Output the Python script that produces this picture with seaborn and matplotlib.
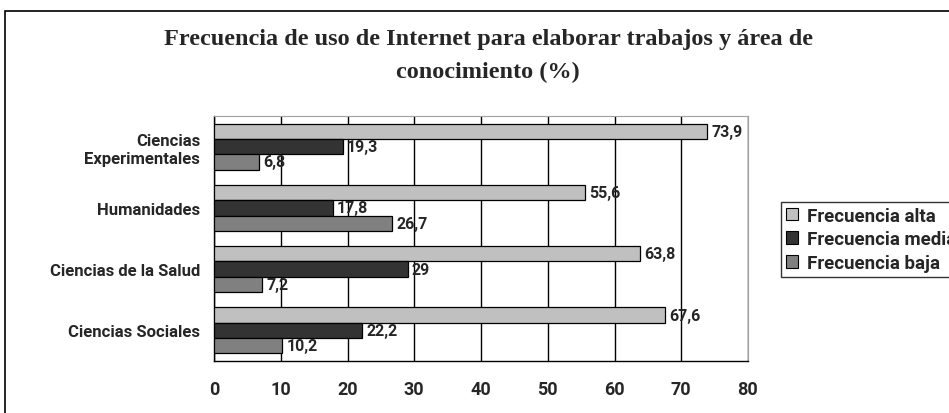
import seaborn as sns
import matplotlib.pyplot as plt
import pandas as pd
from matplotlib.patches import Rectangle

# data
areas = ["Ciencias\nExperimentales", "Humanidades", "Ciencias de la Salud", "Ciencias Sociales"]
series = ["Frecuencia alta", "Frecuencia media", "Frecuencia baja"]
alta = [73.9, 55.6, 63.8, 67.6]
media = [19.3, 17.8, 29, 22.2]
baja = [6.8, 26.7, 7.2, 10.2]
colors = ["#C0C0C0", "#333333", "#808080"]
xticks = [0, 10, 20, 30, 40, 50, 60, 70, 80]

rows = []
for s, vals in zip(series, [alta, media, baja]):
    for a, v in zip(areas, vals):
        rows.append({"area": a, "serie": s, "valor": v})
df = pd.DataFrame(rows)

sns.set_style("white")
label_font = "Roboto"

fig = plt.figure(figsize=(9.49, 4.14), dpi=100)
ax = fig.add_axes([214 / 949, 1 - 362 / 414, (748 - 214) / 949, (362 - 117) / 414])

sns.barplot(data=df, x="valor", y="area", hue="serie", order=areas, hue_order=series,
            palette=colors, orient="h", width=0.75, edgecolor="black", linewidth=0.9,
            ax=ax, zorder=3)

for cont in ax.containers:
    labs = [f"{v:g}".replace(".", ",") for v in cont.datavalues]
    ax.bar_label(cont, labels=labs, padding=3, fontsize=11.5, fontweight="bold",
                 family=label_font)

ax.set_xlim(0, 80)
ax.set_xticks(xticks)
ax.set_ylim(len(areas) - 0.5, -0.5)
ax.grid(axis="x", color="black", linewidth=1, zorder=0)
ax.set_xlabel("")
ax.set_ylabel("")

# y ticks between categories, labels centred on the groups
ax.set_yticks([i for i in range(len(areas))])
ax.set_yticklabels(areas, fontsize=12, fontweight="bold", family=label_font,
                   ha="right", multialignment="right")
ax.tick_params(axis="y", length=0, pad=10)
ax.set_yticks([i - 0.5 for i in range(len(areas) + 1)], minor=True)
ax.tick_params(axis="y", which="minor", length=5, width=1, color="black", direction="out")
ax.tick_params(axis="x", length=5, width=1, color="black", direction="out", pad=9)
for t in ax.get_xticklabels():
    t.set_fontsize(13)
    t.set_fontweight("bold")
    t.set_family(label_font)

for side in ["top", "right"]:
    ax.spines[side].set_color("#A0A0A0")
for side in ["left", "bottom"]:
    ax.spines[side].set_color("black")
    ax.spines[side].set_linewidth(1)

ax.get_legend().remove()
handles = [Rectangle((0, 0), 1, 1, facecolor=c, edgecolor="black", linewidth=0.8) for c in colors]
leg = fig.legend(handles, series, loc="upper left", bbox_to_anchor=(781 / 949, 1 - 203 / 414),
                 frameon=True, fancybox=False, edgecolor="black", handlelength=0.65,
                 handleheight=0.65, handletextpad=0.5, labelspacing=0.3, borderpad=0.25,
                 borderaxespad=0, prop={"family": label_font, "weight": "bold", "size": 13.5})
leg.get_frame().set_linewidth(1)

# outer chart border (cropped on right and bottom)
fig.patches.append(Rectangle((5 / 949, -0.1), 1.1, 1 - 12 / 414 + 0.1, transform=fig.transFigure,
                             fill=False, edgecolor="black", linewidth=1.2))

fig.text(488 / 949, 1 - 40 / 414, "Frecuencia de uso de Internet para elaborar trabajos y área de",
         ha="center", va="center", fontsize=17.5, fontweight="bold", family="Liberation Serif")
fig.text(488 / 949, 1 - 72 / 414, "conocimiento (%)",
         ha="center", va="center", fontsize=17.5, fontweight="bold", family="Liberation Serif")

fig.savefig("out.png", dpi=100)
